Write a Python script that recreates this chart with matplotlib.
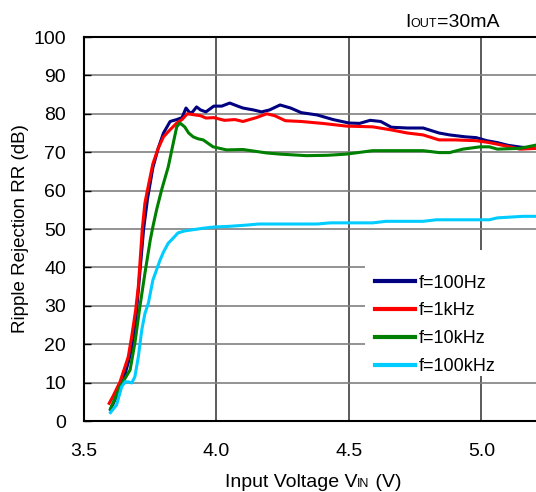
import matplotlib
matplotlib.use('Agg')
import matplotlib.pyplot as plt
from matplotlib.patches import Rectangle
from matplotlib.transforms import IdentityTransform

plt.rcParams['font.family'] = ['Liberation Sans', 'DejaVu Sans']

# f=100Hz
x_100hz = [3.60, 3.62, 3.65, 3.67, 3.69, 3.70, 3.715, 3.725, 3.74, 3.76, 3.78, 3.80,
           3.825, 3.85, 3.87, 3.885, 3.90, 3.91, 3.925, 3.94, 3.96, 3.99, 4.02, 4.05,
           4.08, 4.10, 4.14, 4.17, 4.20, 4.24, 4.28, 4.32, 4.38, 4.44, 4.50, 4.54,
           4.58, 4.62, 4.66, 4.72, 4.78, 4.84, 4.88, 4.94, 4.98, 5.02, 5.06, 5.10,
           5.15, 5.21]
y_100hz = [3, 6, 11, 16, 22, 30, 42, 50, 58, 66, 71, 75,
           78, 78.5, 79, 81.5, 80.2, 80.5, 81.8, 81, 80.5, 82, 82, 82.8,
           82, 81.5, 81, 80.5, 81, 82.3, 81.5, 80.3, 79.7, 78.5, 77.6, 77.5,
           78.3, 78, 76.5, 76.3, 76.3, 75, 74.5, 74, 73.8, 73, 72.5, 71.8,
           71.3, 71]

# f=1kHz
x_1khz = [3.595, 3.61, 3.636, 3.667, 3.68, 3.695, 3.705, 3.712, 3.72, 3.73, 3.745,
          3.76, 3.78, 3.80, 3.82, 3.85, 3.87, 3.89, 3.92, 3.94, 3.96, 3.99, 4.03,
          4.07, 4.10, 4.15, 4.19, 4.22, 4.26, 4.32, 4.40, 4.49, 4.59, 4.66, 4.72,
          4.78, 4.84, 4.90, 4.98, 5.03, 5.08, 5.145, 5.21]
y_1khz = [4.6, 6.5, 10.2, 16.7, 22, 28.9, 35, 42, 50, 56.8, 62,
          67, 71, 74, 75.5, 77.6, 78.5, 80, 79.7, 79.5, 78.9, 79, 78.3,
          78.5, 78, 79, 80, 79.5, 78.2, 78, 77.5, 76.8, 76.6, 75.8, 75,
          74.5, 73.2, 73.2, 73.0, 72.5, 71.8, 70.8, 71]

# f=10kHz
x_10khz = [3.60, 3.636, 3.674, 3.692, 3.711, 3.73, 3.75, 3.76, 3.774, 3.793, 3.818,
           3.837, 3.85, 3.862, 3.88, 3.895, 3.912, 3.93, 3.95, 3.987, 4.038, 4.10,
           4.15, 4.19, 4.24, 4.34, 4.42, 4.49, 4.59, 4.70, 4.78, 4.84, 4.88, 4.93,
           4.995, 5.03, 5.06, 5.145, 5.21]
y_10khz = [3.2, 8.9, 13.3, 20.3, 29.8, 38.5, 47.1, 50.6, 55, 60.2, 66.2,
           72.4, 76.6, 77.6, 76.6, 75, 74, 73.5, 73.2, 71.4, 70.6, 70.7,
           70.2, 69.8, 69.5, 69.1, 69.2, 69.5, 70.4, 70.4, 70.4, 69.9, 69.9, 70.8,
           71.4, 71.4, 70.8, 71, 71.9]

# f=100kHz
x_100khz = [3.60, 3.623, 3.642, 3.655, 3.667, 3.68, 3.692, 3.705, 3.718, 3.73, 3.743,
            3.76, 3.787, 3.80, 3.818, 3.835, 3.855, 3.88, 3.90, 3.95, 3.987, 4.05,
            4.11, 4.16, 4.25, 4.38, 4.43, 4.59, 4.64, 4.78, 4.83, 5.03, 5.06,
            5.157, 5.21]
y_100khz = [2.2, 4.2, 8.9, 10.2, 10.2, 9.9, 11.5, 16.7, 23.7, 28, 30.7,
            36.7, 41.9, 44, 46.3, 47.5, 49, 49.5, 49.7, 50.2, 50.5, 50.7,
            51, 51.3, 51.3, 51.3, 51.6, 51.6, 52.0, 52.0, 52.4, 52.4, 52.9,
            53.3, 53.3]

x_ticks = [3.5, 4.0, 4.5, 5.0]
x_ticklabels = ['3.5', '4.0', '4.5', '5.0']
y_ticks = [0, 10, 20, 30, 40, 50, 60, 70, 80, 90, 100]

series = [
    (x_100hz, y_100hz, 'f=100Hz', '#000080'),
    (x_1khz, y_1khz, 'f=1kHz', '#ff0000'),
    (x_10khz, y_10khz, 'f=10kHz', '#008000'),
    (x_100khz, y_100khz, 'f=100kHz', '#00ccff'),
]

fig = plt.figure(figsize=(5.36, 4.92), dpi=100)
ax = fig.add_axes([84/536, 1 - 421/492, 1 - 84/536, 384/492])

for xs, ys, lab, col in series:
    ax.plot(xs, ys, color=col, lw=2.2, label=lab, zorder=3)

ax.set_xlim(3.5, 5.206)
ax.set_ylim(0, 100)
ax.set_xticks(x_ticks)
ax.set_xticklabels(x_ticklabels)
ax.set_yticks(y_ticks)
ax.tick_params(axis='x', length=0, pad=16, labelsize=14)
ax.tick_params(axis='y', direction='in', length=5, width=1, pad=13, labelsize=14)

ax.yaxis.grid(True, color='#808080', lw=1.2, zorder=1)
ax.xaxis.grid(True, color='#404040', lw=1.2, zorder=1)
ax.set_axisbelow(True)
for s in ['left', 'bottom', 'top']:
    ax.spines[s].set_linewidth(1.5)
ax.spines['right'].set_visible(False)

ax.set_ylabel('Ripple Rejection RR (dB)', fontsize=13.5, labelpad=3)

# white legend area, reaching the right edge of the plot
ax.add_patch(Rectangle((0.622, 0.117), 0.378, 0.328, transform=ax.transAxes,
                       facecolor='white', edgecolor='none', zorder=2.5))

leg = ax.legend(loc='upper left', bbox_to_anchor=(0.628, 0.40), fontsize=13,
                handlelength=2.2, handletextpad=0.2, labelspacing=0.6,
                frameon=False, borderpad=0.4, borderaxespad=0)
for h in leg.get_lines():
    h.set_linewidth(3)


def rich_text(parts, x, y, center=False):
    # parts: list of (string, fontsize); x, y in pixels from top-left, baseline
    r = fig.canvas.get_renderer()
    objs = [fig.text(0, 0, s, fontsize=fs, va='baseline', ha='left',
                     transform=IdentityTransform()) for s, fs in parts]
    widths = [t.get_window_extent(r).width for t in objs]
    x0 = x - sum(widths) / 2 if center else x
    for t, w in zip(objs, widths):
        t.set_position((x0, 492 - y))
        x0 += w


rich_text([('Input Voltage V', 14), ('IN', 9), (' (V)', 14)], 313, 487, center=True)
rich_text([('I', 14), ('OUT', 9), ('=30mA', 14)], 405, 27)

fig.savefig('out.png', dpi=100)
